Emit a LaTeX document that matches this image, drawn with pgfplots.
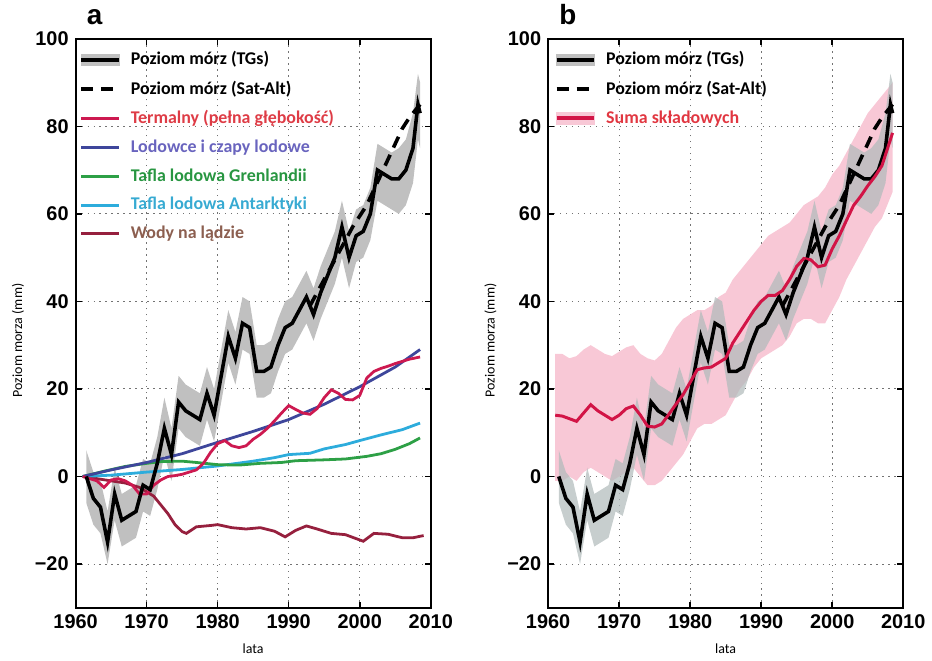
\documentclass[border=0pt]{standalone}
\usepackage{pgfplots}
\pgfplotsset{compat=1.18}
\usepackage{pgfplotstable}
\usepgfplotslibrary{fillbetween}
\usepackage{fontspec}
\setmainfont{Liberation Sans}
\newfontfamily\legfont{Carlito}

\definecolor{tgband}{RGB}{192,192,192}
\definecolor{pinkband}{RGB}{248,200,214}
\definecolor{therm}{RGB}{205,25,80}
\definecolor{glac}{RGB}{62,70,155}
\definecolor{green}{RGB}{45,160,70}
\definecolor{anta}{RGB}{45,172,220}
\definecolor{landw}{RGB}{150,32,62}
\definecolor{sumred}{RGB}{210,20,70}
\definecolor{tthermal}{RGB}{222,60,70}
\definecolor{tglac}{RGB}{105,100,190}
\definecolor{tgreen}{RGB}{40,150,65}
\definecolor{tanta}{RGB}{55,170,210}
\definecolor{tlandw}{RGB}{140,95,80}
\definecolor{tsum}{RGB}{225,55,65}

\pgfplotstableread{
x y lo hi
1961.5 0 -6 6
1962.5 -5 -11 1
1963.5 -7 -13 -1
1964.5 -15 -20 -8
1965.5 -4 -10 2
1966.5 -10 -16 -4
1967.5 -9 -15 -3
1968.5 -8 -14 -2
1969.5 -2 -8 4
1970.5 -3 -9 3
1971.5 3 -3 9
1972.5 11 5 18
1973.5 5 -1 11
1974.5 17 11 23
1975.5 15 9 21
1976.5 14 8 20
1977.5 13 7 19
1978.5 19 13 25
1979.5 14 8 20
1980.5 23 17 29
1981.5 32 26 38
1982.5 27 21 33
1983.5 35 29 41
1984.5 34 28 40
1985.5 24 18 30
1986.5 24 18 30
1987.5 25 19 31
1988.5 30 24 36
1989.5 34 28 40
1990.5 35 29 41
1991.5 38 32 44
1992.5 41 35 47
1993.5 37 31 43
1994.5 42 36 48
1995.5 46 40 52
1996.5 50 44 56
1997.5 57 50 63
1998.5 50 43 56
1999.5 55 49 61
2000.5 56 50 62
2001.5 60 54 66
2002.5 70 63 76
2003.5 69 62 75
2004.5 68 61 74
2005.5 68 60 75
2006.5 70 62 77
2007.5 75 67 83
2008.2 85 77 92
2008.5 83 75 90
}\tg

\pgfplotstableread{
x y
1993 39
1995 45
1997 51
1999 57
2001 62
2003 69
2005 76
2006 79.5
2007 82
2008.5 85
}\sat

\pgfplotstableread{
x y
1961 0
1962 -0.5
1963 -1
1964 -2.5
1965 -0.8
1966 -0.5
1967 -1
1968 -2
1969 -4
1970 -4
1971 -2
1972 -0.8
1973 0
1974 0.2
1975 0.5
1976 1
1977 1.5
1978 3
1979 5.5
1980 7.5
1981 8.2
1982 7
1983 6.6
1984 7
1985 8.5
1986 9.6
1987 11
1988 12.7
1989 14.5
1990 16.2
1991 15.3
1992 14.5
1993 14.2
1994 15.5
1995 18
1996 19.8
1997 19
1998 17.6
1999 17.5
2000 18.5
2001 22.5
2002 24
2003 24.7
2004 25.2
2005 25.8
2006 26.3
2007 26.8
2008.5 27.3
}\thermal

\pgfplotstableread{
x y
1961 0
1965 1.5
1970 3.2
1975 5.2
1980 7.8
1985 10.3
1990 13
1995 16.5
2000 20.5
2005 25
2008.5 29
}\glaciers

\pgfplotstableread{
x y
1961 0
1964 1.2
1967 2.3
1970 3
1972 3.4
1975 3.5
1977 3.2
1980 2.7
1983 2.6
1986 3
1989 3.2
1991 3.6
1995 3.8
1998 4
2001 4.6
2003 5.2
2005 6.2
2007 7.5
2008.5 8.8
}\greenland

\pgfplotstableread{
x y
1961 0
1965 0.3
1970 1
1975 1.6
1980 2.4
1985 3.5
1988 4.3
1990 5
1993 5.3
1995 6.3
1998 7.3
2000 8.2
2003 9.5
2006 10.7
2008.5 12.2
}\antarctic

\pgfplotstableread{
x y
1961 0
1963 -0.5
1965 -1
1967 -1.5
1969 -2.5
1970 -3.5
1971 -4.5
1972 -6.5
1973 -8.5
1974 -11
1975 -12.6
1975.6 -13
1977 -11.5
1979 -11.2
1980 -11
1982 -11.7
1984 -12
1986 -11.7
1988 -12.5
1989.5 -13.8
1991 -12.3
1992.5 -11.3
1994 -12
1996 -13
1998 -13.3
2000.5 -14.8
2002 -13
2004 -13.2
2006 -14
2007.5 -14
2009 -13.5
}\landwater

\pgfplotstableread{
x y hi lo
1961 14 28 -1
1962 13.8 28 -1
1963 13.2 27 0
1964 12.6 27.5 -1
1965 14.5 29 1
1966 16.4 30 2
1967 15 29 1
1968 14 28 0
1969 13 27.5 -1
1970 14 28.5 0
1971 15.5 29.5 1
1972 16.1 30 2
1973 14 28 0
1974 11.5 27 -2
1975 11.3 26.5 -2
1976 12 28 -1
1977 14.2 31 1
1978 16.5 34 3
1979 18.7 36 5
1980 21.5 37 8
1981 24.4 38 11
1982 24.8 38 12
1983 25 39 12
1984 26 41 13
1985 27 42 14
1986 30.5 45 17
1987 33 47 20
1988 35.5 49 22
1989 38 51 25
1990 40 53 27
1991 41.4 55 28
1992 41.4 56 29
1993 42.5 57 30
1994 45 58 32
1995 48 60 35
1996 49.8 62 36
1997 49.5 63 36
1998 47.9 64 35
1999 48.3 66 35
2000 52 69 38
2001 55 71 41
2002 58.5 74 45
2003 61.9 77 48
2004 64 80 51
2005 66.4 83 54
2006 68.5 85 57
2007 71 87 59
2008 76 89 63
2008.5 78.5 90 65
}\sumcomp

\pgfplotsset{
  myaxis/.style={
    scale only axis, width=178.5pt, height=286pt,
    xmin=1960, xmax=2010, ymin=-30, ymax=100,
    xtick={1960,1970,1980,1990,2000,2010},
    xticklabels={1960,1970,1980,1990,2000,2010},
    ytick={-20,0,20,40,60,80,100},
    yticklabels={−20,0,20,40,60,80,100},
    tick align=inside, major tick length=3pt,
    grid=major,
    major grid style={black!55, line width=0.5pt, dash pattern=on 0.7pt off 2.3pt},
    axis line style={line width=1pt},
    tick style={line width=0.8pt, black},
    tick label style={font=\fontsize{10}{12}\selectfont\bfseries},
    xlabel={lata}, ylabel={Poziom morza (mm)},
    label style={font=\legfont\fontsize{7}{8}\selectfont},
    xlabel style={at={(axis description cs:0.5,-0.072)}, anchor=center},
    ylabel style={at={(axis description cs:-0.162,0.47)}, anchor=center},
    title style={at={(axis description cs:0.025,1)}, anchor=south west, inner sep=1pt, font=\fontsize{14}{14}\selectfont\bfseries},
    legend cell align=left,
    legend style={at={(axis description cs:0.01,0.985)}, anchor=north west,
      draw=none, fill=none, font=\legfont\bfseries\fontsize{9}{10}\selectfont,
      row sep=2.6pt, inner sep=0pt, nodes={inner sep=2pt},
      /tikz/every odd column/.append style={column sep=3pt}},
    lineleg/.style={legend image code/.code={\draw[##1] (0pt,0pt) -- (19pt,0pt);}},
  }
}

\begin{document}
\begin{tikzpicture}
% ---------------- panel a
\begin{axis}[myaxis, at={(0pt,0pt)}, anchor=south west, title={a}]
\addlegendimage{legend image code/.code={\fill[tgband] (0pt,-2.7pt) rectangle (19pt,2.7pt); \draw[black, line width=1.8pt] (0pt,0pt) -- (19pt,0pt);}}
\addlegendentry{Poziom mórz (TGs)}
\addlegendimage{lineleg, black, line width=1.8pt, dash pattern=on 6pt off 4pt}
\addlegendentry{Poziom mórz (Sat-Alt)}
\addlegendimage{lineleg, therm, line width=1.5pt}
\addlegendentry{\textcolor{tthermal}{Termalny (pełna głębokość)}}
\addlegendimage{lineleg, glac, line width=1.5pt}
\addlegendentry{\textcolor{tglac}{Lodowce i czapy lodowe}}
\addlegendimage{lineleg, green, line width=1.5pt}
\addlegendentry{\textcolor{tgreen}{Tafla lodowa Grenlandii}}
\addlegendimage{lineleg, anta, line width=1.5pt}
\addlegendentry{\textcolor{tanta}{Tafla lodowa Antarktyki}}
\addlegendimage{lineleg, landw, line width=1.5pt}
\addlegendentry{\textcolor{tlandw}{Wody na lądzie}}

\addplot[name path=tgHa, draw=none, forget plot] table[x=x, y=hi] {\tg};
\addplot[name path=tgLa, draw=none, forget plot] table[x=x, y=lo] {\tg};
\addplot[tgband, forget plot] fill between[of=tgHa and tgLa];

\addplot[landw, line width=1.4pt, forget plot] table[x=x, y=y] {\landwater};
\addplot[anta, line width=1.4pt, forget plot] table[x=x, y=y] {\antarctic};
\addplot[green, line width=1.4pt, forget plot] table[x=x, y=y] {\greenland};
\addplot[glac, line width=1.4pt, forget plot] table[x=x, y=y] {\glaciers};
\addplot[therm, line width=1.4pt, forget plot] table[x=x, y=y] {\thermal};
\addplot[black, line width=1.8pt, forget plot] table[x=x, y=y] {\tg};
\addplot[black, line width=1.8pt, dash pattern=on 6pt off 4pt, forget plot] table[x=x, y=y] {\sat};
\end{axis}

% ---------------- panel b
\begin{axis}[myaxis, at={(237.5pt,0pt)}, anchor=south west, title={b},
  legend style={at={(axis description cs:0.018,0.985)}}]
\addlegendimage{legend image code/.code={\fill[tgband] (0pt,-2.7pt) rectangle (19pt,2.7pt); \draw[black, line width=1.8pt] (0pt,0pt) -- (19pt,0pt);}}
\addlegendentry{Poziom mórz (TGs)}
\addlegendimage{lineleg, black, line width=1.8pt, dash pattern=on 6pt off 4pt}
\addlegendentry{Poziom mórz (Sat-Alt)}
\addlegendimage{legend image code/.code={\fill[pinkband] (0pt,-3.2pt) rectangle (19pt,3.2pt); \draw[sumred, line width=1.8pt] (0pt,0pt) -- (19pt,0pt);}}
\addlegendentry{\textcolor{tsum}{Suma składowych}}

\addplot[name path=smH, draw=none, forget plot] table[x=x, y=hi] {\sumcomp};
\addplot[name path=smL, draw=none, forget plot] table[x=x, y=lo] {\sumcomp};
\addplot[pinkband, forget plot] fill between[of=smH and smL];

\addplot[name path=tgHb, draw=none, forget plot] table[x=x, y=hi] {\tg};
\addplot[name path=tgLb, draw=none, forget plot] table[x=x, y=lo] {\tg};
\addplot[fill=tgband!92!teal, fill opacity=0.72, forget plot] fill between[of=tgHb and tgLb];

\addplot[black, line width=1.8pt, forget plot] table[x=x, y=y] {\tg};
\addplot[sumred, line width=1.5pt, forget plot] table[x=x, y=y] {\sumcomp};
\addplot[black, line width=1.8pt, dash pattern=on 6pt off 4pt, forget plot] table[x=x, y=y] {\sat};
\end{axis}
\path (-38pt,-25pt) rectangle (428pt,305.5pt);
\end{tikzpicture}
\end{document}
